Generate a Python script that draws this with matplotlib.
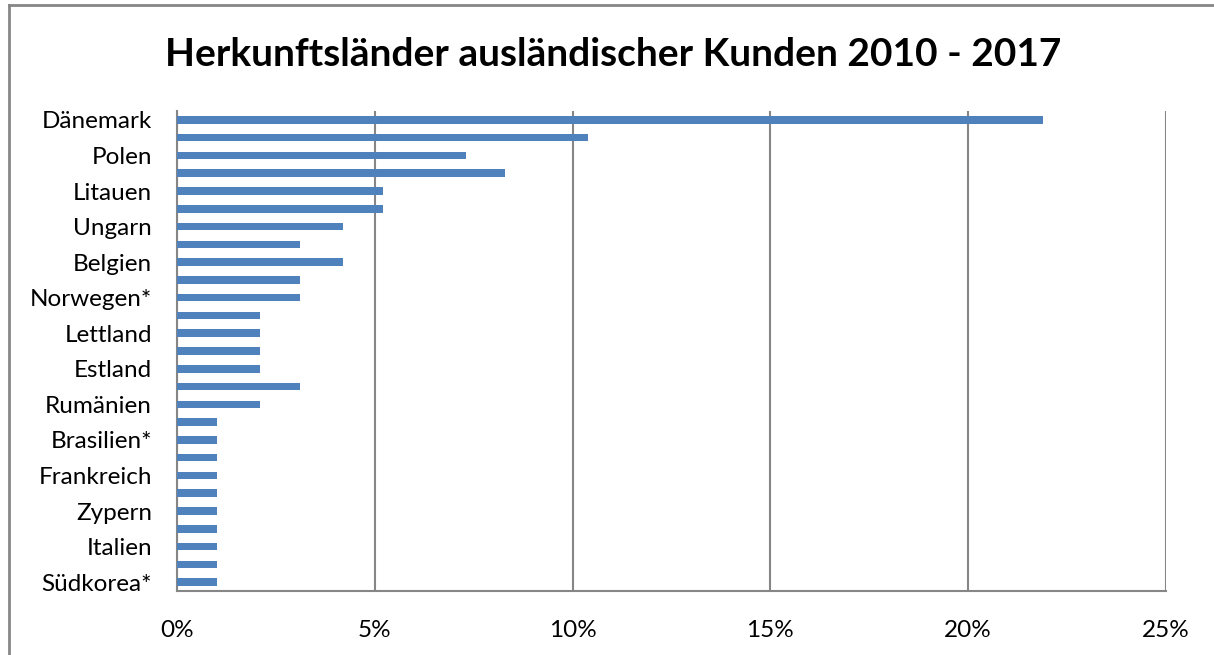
import numpy as np
import matplotlib.pyplot as plt
from matplotlib.lines import Line2D

# shown labels (every second bar carries a label in the original)
countries = ['Dänemark', 'Polen', 'Litauen', 'Ungarn', 'Belgien', 'Norwegen*',
             'Lettland', 'Estland', 'Rumänien', 'Brasilien*', 'Frankreich',
             'Zypern', 'Italien', 'Südkorea*']
# share of customers in %, top to bottom
shares = [21.9, 10.4, 7.3, 8.3, 5.2, 5.2, 4.2, 3.1, 4.2, 3.1, 3.1, 2.1, 2.1, 2.1,
          2.1, 3.1, 2.1, 1.0, 1.0, 1.0, 1.0, 1.0, 1.0, 1.0, 1.0, 1.0, 1.0]
xticks = [0, 5, 10, 15, 20, 25]

plt.rcParams['font.family'] = ['Lato', 'DejaVu Sans']

fig = plt.figure(figsize=(12.14, 6.55), dpi=100)
ax = fig.add_axes([177 / 1214, 1 - 591 / 655, (1166 - 177) / 1214, (591 - 111) / 655])

pos = np.arange(len(shares))
ax.barh(pos, shares, height=0.42, color='#4F81BD', zorder=3)

ax.set_xlim(0, 25)
ax.set_ylim(len(shares) - 0.5, -0.5)
ax.set_xticks(xticks)
ax.set_xticklabels([f'{t}%' for t in xticks], fontsize=17.5)
ax.set_yticks(pos[::2])
ax.set_yticklabels(countries, fontsize=17.5)
ax.tick_params(length=0)
ax.tick_params(axis='y', pad=18)
ax.tick_params(axis='x', pad=21)
ax.grid(axis='x', color='#868686', linewidth=1.5, zorder=1)

for s in ['top', 'right']:
    ax.spines[s].set_visible(False)
for s in ['left', 'bottom']:
    ax.spines[s].set_color('#868686')
    ax.spines[s].set_linewidth(1.5)

fig.text(0.505, 1 - 54 / 655, 'Herkunftsländer ausländischer Kunden 2010 - 2017',
         ha='center', va='center', fontsize=28, fontweight='bold')

# outer chart frame (only left and top edges visible in the crop)
fig.add_artist(Line2D([9 / 1214, 9 / 1214], [0, 1 - 5 / 655], transform=fig.transFigure,
                      color='#868686', linewidth=2))
fig.add_artist(Line2D([9 / 1214, 1], [1 - 5 / 655, 1 - 5 / 655], transform=fig.transFigure,
                      color='#868686', linewidth=2))

fig.savefig('out.png', dpi=100)
